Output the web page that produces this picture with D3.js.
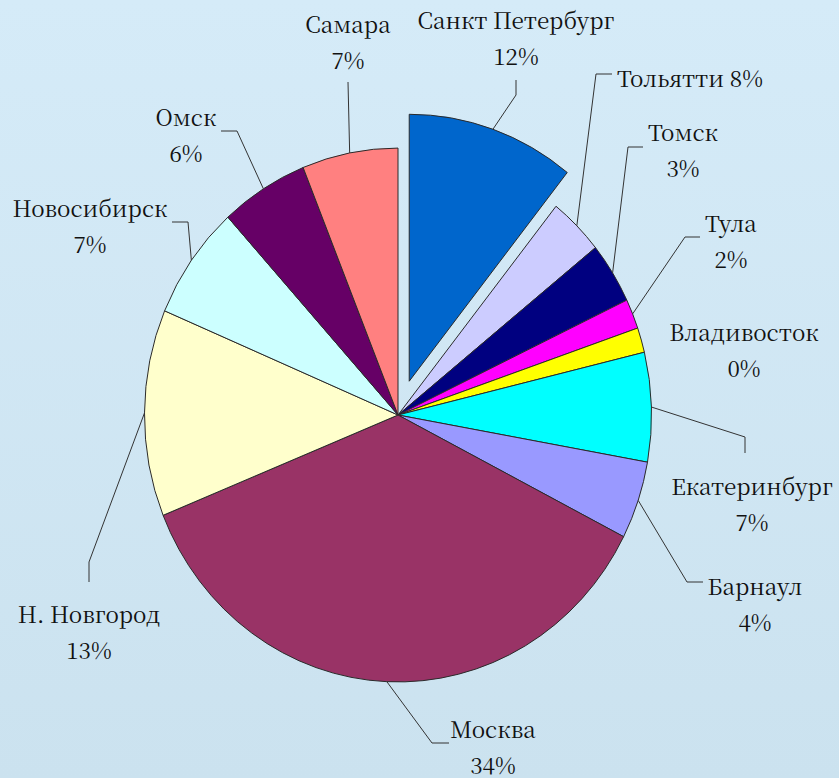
<!DOCTYPE html>
<html>
<head>
<meta charset="utf-8">
<script src="https://cdn.jsdelivr.net/npm/d3@7"></script>
</head>
<body style="margin:0">
<svg id="chart" width="839" height="778"></svg>
<script>
// ---- data, clockwise from 12 o'clock ----
const cities = ["Санкт Петербург", "Тольятти", "Томск", "Тула", "Владивосток", "Екатеринбург",
                "Барнаул", "Москва", "Н. Новгород", "Новосибирск", "Омск", "Самара"];
const shares = [10.7, 3.5, 3.7, 1.8, 1.5, 6.6, 4.7, 36.3, 12.5, 6.9, 5.6, 6.1];
const labelPercents = ["12%", "8%", "3%", "2%", "0%", "7%", "4%", "34%", "13%", "7%", "6%", "7%"];
const colors = ["#0066cc", "#ccccff", "#000080", "#ff00ff", "#ffff00", "#00ffff",
                "#9999ff", "#993366", "#ffffcc", "#ccffff", "#660066", "#ff8080"];
const exploded = ["Санкт Петербург"];

// ---- layout (positions only) ----
const labelLayout = {
  "Санкт Петербург": {x: 516, y: 29, anchor: "middle", inline: false, elbow: [[516, 95], [516, 80]]},
  "Тольятти":        {x: 617, y: 87, anchor: "start",  inline: true,  elbow: [[596, 74], [612, 74]]},
  "Томск":           {x: 683, y: 141, anchor: "middle", inline: false, elbow: [[628, 147], [643, 147]]},
  "Тула":            {x: 731, y: 232, anchor: "middle", inline: false, elbow: [[685, 237], [700, 237]]},
  "Владивосток":     {x: 744, y: 341, anchor: "middle", inline: false, elbow: null},
  "Екатеринбург":    {x: 752, y: 495, anchor: "middle", inline: false, elbow: [[745, 437], [745, 453]]},
  "Барнаул":         {x: 755, y: 595, anchor: "middle", inline: false, elbow: [[687, 582], [703, 582]]},
  "Москва":          {x: 493, y: 738, anchor: "middle", inline: false, elbow: [[432, 743], [449, 743]]},
  "Н. Новгород":     {x: 89, y: 623, anchor: "middle", inline: false, elbow: [[89, 562], [89, 582]]},
  "Новосибирск":     {x: 90, y: 217, anchor: "middle", inline: false, elbow: [[188, 222], [172, 222]]},
  "Омск":            {x: 186, y: 126, anchor: "middle", inline: false, elbow: [[237, 131], [221, 131]]},
  "Самара":          {x: 348, y: 33, anchor: "middle", inline: false, elbow: [[348, 82]]}
};

const W = 839, H = 778;
const cx = 398, cy = 415, r = 253.5, yStretch = 1.053, explodeDist = 34;
const lineGap = 36, fontSize = 22.5;
const FONT = '"Noto Serif CJK SC"';

const svg = d3.select("#chart");
const defs = svg.append("defs");
const grad = defs.append("linearGradient").attr("id", "bg").attr("x1", 0).attr("y1", 0).attr("x2", 0).attr("y2", 1);
grad.append("stop").attr("offset", "0%").attr("stop-color", "#d5ebf8");
grad.append("stop").attr("offset", "100%").attr("stop-color", "#cbe2ef");
svg.append("rect").attr("width", W).attr("height", H).attr("fill", "url(#bg)");

const records = cities.map((c, i) => ({city: c, value: shares[i], pct: labelPercents[i], color: colors[i]}));

const pie = d3.pie().value(d => d.value).sort(null).startAngle(0).endAngle(2 * Math.PI);
const arcs = pie(records);
const arc = d3.arc().innerRadius(0).outerRadius(r);

const offsetOf = d => {
  if (!exploded.includes(d.data.city)) return [0, 0];
  const m = (d.startAngle + d.endAngle) / 2;
  return [explodeDist * Math.sin(m), -explodeDist * Math.cos(m)];
};

const pieG = svg.append("g").attr("transform", `translate(${cx},${cy}) scale(1,${yStretch})`);
pieG.selectAll("path")
  .data(arcs)
  .join("path")
  .attr("d", arc)
  .attr("transform", d => { const o = offsetOf(d); return `translate(${o[0]},${o[1]})`; })
  .attr("fill", d => d.data.color)
  .attr("stroke", "#2a2a2a")
  .attr("stroke-width", 1)
  .attr("stroke-linejoin", "round")
  .attr("vector-effect", "non-scaling-stroke");

const outerPoint = d => {
  const m = (d.startAngle + d.endAngle) / 2;
  const o = offsetOf(d);
  const x = o[0] + r * Math.sin(m);
  const y = o[1] - r * Math.cos(m);
  return [cx + x, cy + y * yStretch];
};

const leaderG = svg.append("g");
arcs.forEach(d => {
  const L = labelLayout[d.data.city];
  if (!L.elbow) return;
  const pts = [outerPoint(d), ...L.elbow];
  leaderG.append("path")
    .attr("d", d3.line()(pts))
    .attr("fill", "none")
    .attr("stroke", "#333")
    .attr("stroke-width", 1);
});

const textG = svg.append("g");
const addText = (x, y, anchor, str) =>
  textG.append("text").attr("x", x).attr("y", y).attr("text-anchor", anchor)
    .style("font-family", FONT).style("font-size", fontSize + "px").style("fill", "#111")
    .text(str);

arcs.forEach(d => {
  const L = labelLayout[d.data.city];
  if (L.inline) {
    addText(L.x, L.y, L.anchor, d.data.city + " " + d.data.pct);
  } else {
    addText(L.x, L.y, L.anchor, d.data.city);
    addText(L.x, L.y + lineGap, L.anchor, d.data.pct);
  }
});
</script>
</body>
</html>
